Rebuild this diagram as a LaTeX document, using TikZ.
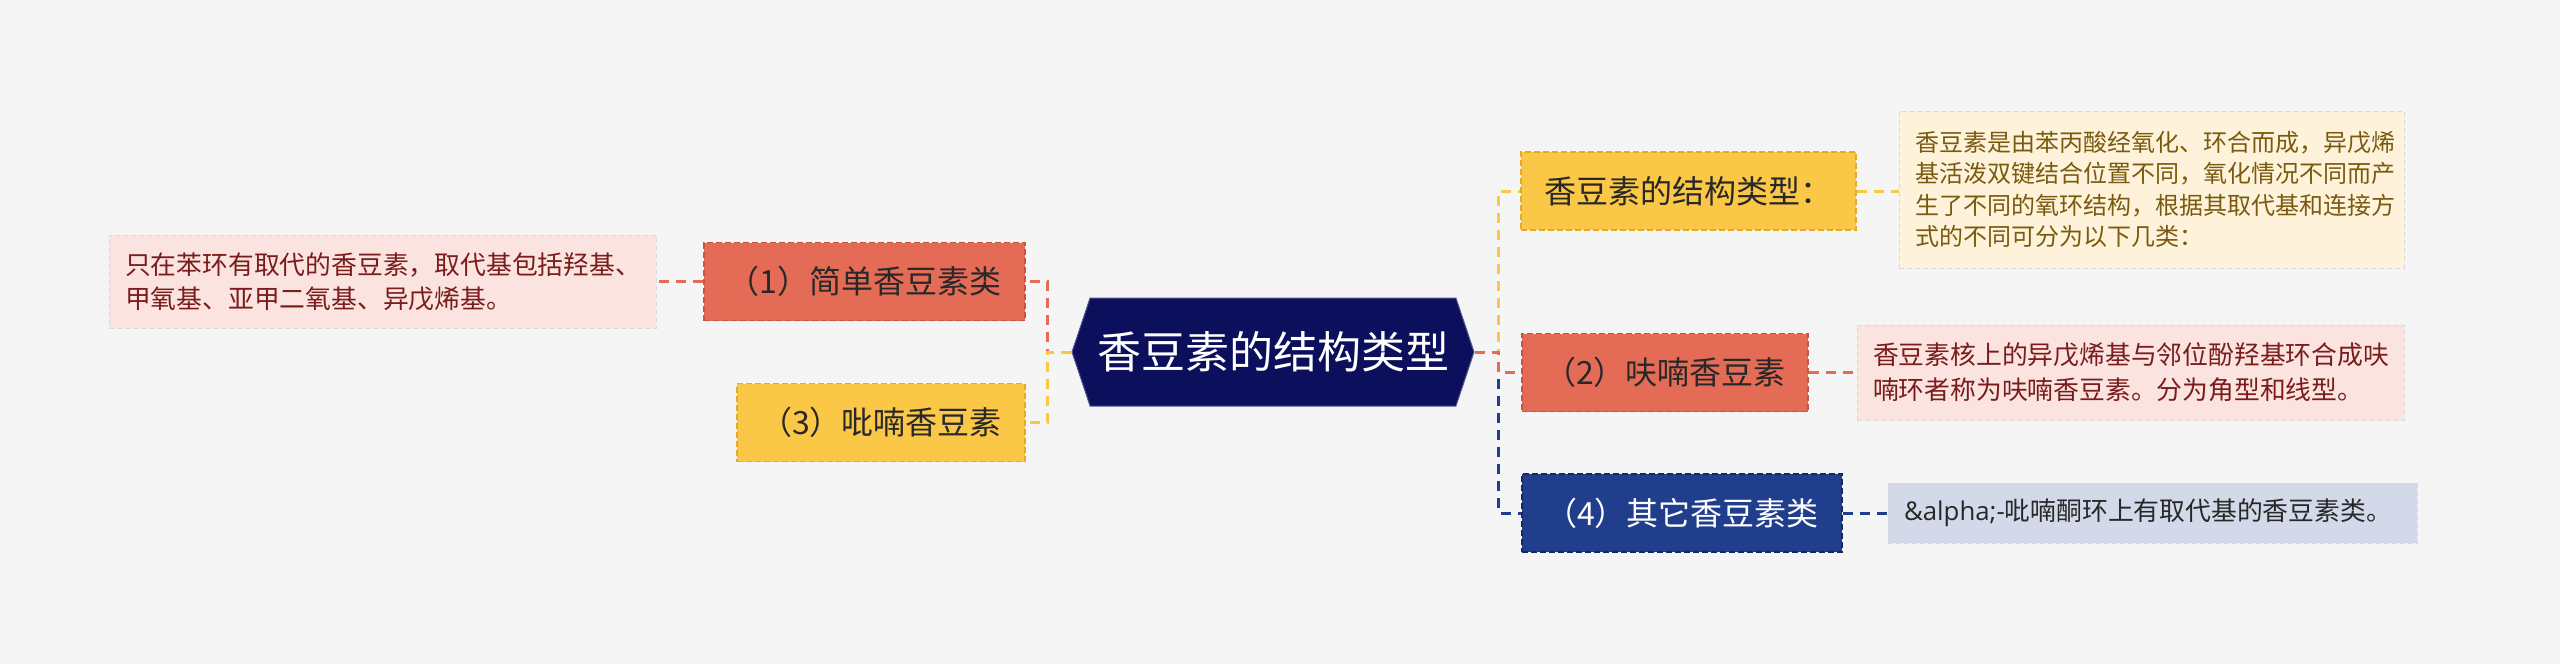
\documentclass[tikz,border=0pt]{standalone}
\usepackage{fontspec}
\setmainfont{Noto Sans CJK SC}
\newfontfamily\latinfont{Open Sans}
\usepackage{tikz}
\usetikzlibrary{positioning,shapes.symbols}
\usepackage{xcolor}
\definecolor{Paper}{RGB}{245,245,245}
\definecolor{RootNavy}{RGB}{11,15,92}
\definecolor{Coral}{RGB}{228,108,87}
\definecolor{CoralEdge}{RGB}{200,85,66}
\definecolor{Sun}{RGB}{251,199,70}
\definecolor{SunEdge}{RGB}{232,168,40}
\definecolor{Navy}{RGB}{32,62,140}
\definecolor{NavyEdge}{RGB}{20,40,100}
\definecolor{PinkBg}{RGB}{251,228,224}
\definecolor{CreamBg}{RGB}{254,243,218}
\definecolor{MistBg}{RGB}{211,217,233}
\definecolor{DarkRed}{RGB}{122,28,28}
\definecolor{Olive}{RGB}{122,90,14}
\definecolor{Ink}{RGB}{40,40,40}
\tikzset{
  rootbox/.style={signal,signal to=east and west,signal pointer angle=143,
    fill=RootNavy,draw=RootNavy!70!white,line width=1pt,text=white,
    minimum width=402pt,minimum height=108pt,inner sep=0pt,
    font=\fontsize{44}{50}\selectfont},
  topicbox/.style={rectangle,line width=1.5pt,dash pattern=on 6pt off 3pt,
    minimum height=78pt,inner sep=0pt,align=center,
    font=\fontsize{32}{38}\selectfont},
  coralbox/.style={topicbox,fill=Coral,draw=CoralEdge,text=Ink},
  sunbox/.style={topicbox,fill=Sun,draw=SunEdge,text=Ink},
  navybox/.style={topicbox,fill=Navy,draw=NavyEdge,text=white},
  notebox/.style={rectangle,inner xsep=16pt,inner ysep=0pt,align=left,
    draw=white!70!gray,line width=0.8pt,dash pattern=on 5pt off 3pt,
    font=\fontsize{25.8}{34}\selectfont},
  link/.style={line width=3pt,dash pattern=on 10pt off 7pt},
}

\begin{document}
\begin{tikzpicture}[x=1pt,y=-1pt]
  \fill[Paper] (0,0) rectangle (2560,664);
  \useasboundingbox (0,0) rectangle (2560,664);

  \node[rootbox] (root) at (1273,352) {香豆素的结构类型};

  % left side
  \node[coralbox,minimum width=321pt] (simple) at (864.5,281.5) {（1）简单香豆素类};
  \node[sunbox,minimum width=288pt] (pyran) at (881,422.5) {（3）吡喃香豆素};
  \node[notebox,fill=PinkBg,text=DarkRed,text width=515pt,minimum height=93pt]
    (simplenote) at (382.5,281.5) {只在苯环有取代的香豆素，取代基包括羟基、\\甲氧基、亚甲二氧基、异戊烯基。};

  % right side
  \node[sunbox,minimum width=335pt] (kind) at (1688.5,191) {香豆素的结构类型：};
  \node[coralbox,minimum width=286pt] (furan) at (1665,372.5) {（2）呋喃香豆素};
  \node[navybox,minimum width=320pt] (other) at (1682,513) {（4）其它香豆素类};
  \node[notebox,fill=CreamBg,text=Olive,text width=473pt,minimum height=157pt,
    font=\fontsize{24}{31.5}\selectfont]
    (kindnote) at (2151.5,189.5) {香豆素是由苯丙酸经氧化、环合而成，异戊烯\\基活泼双键结合位置不同，氧化情况不同而产\\生了不同的氧环结构，根据其取代基和连接方\\式的不同可分为以下几类：};
  \node[notebox,fill=PinkBg,text=DarkRed,text width=515pt,minimum height=95pt,
    font=\fontsize{25.8}{35}\selectfont]
    (furannote) at (2130.5,372.5) {香豆素核上的异戊烯基与邻位酚羟基环合成呋\\喃环者称为呋喃香豆素。分为角型和线型。};
  \node[notebox,fill=MistBg,text=Ink,text width=497pt,minimum height=60pt]
    (othernote) at (2152.5,513) {{\latinfont\&alpha;-}吡喃酮环上有取代基的香豆素类。};

  % connectors
  \draw[link,Coral] (root.west) -- ++(-24,0) |- (simple.east);
  \draw[link,Sun] (root.west) -- ++(-24,0) |- (pyran.east);
  \draw[link,Sun] (root.east) -- ++(24,0) |- (kind.west);
  \draw[link,Navy] (root.east) -- ++(24,0) |- (other.west);
  \draw[link,Coral] (root.east) -- ++(24,0) |- (furan.west);
  \draw[link,Coral] (simple.west) -- (simplenote.east);
  \draw[link,Sun] (kind.east) -- (kindnote.west |- kind.east);
  \draw[link,Coral] (furan.east) -- (furannote.west);
  \draw[link,Navy] (other.east) -- (othernote.west);
\end{tikzpicture}
\end{document}
